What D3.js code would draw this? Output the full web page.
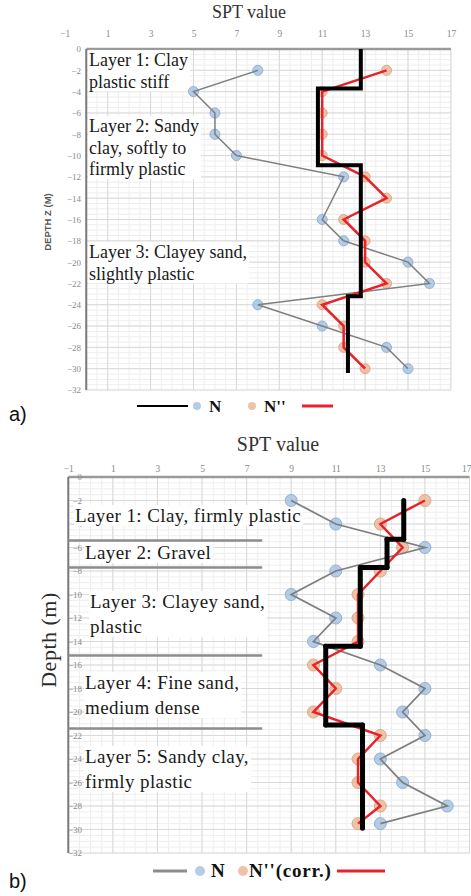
<!DOCTYPE html>
<html><head><meta charset="utf-8">
<script src="https://cdn.jsdelivr.net/npm/d3@7"></script>
<style>body{margin:0;background:#fff}svg{display:block}
.sf{font-family:"Liberation Serif","DejaVu Serif","Times New Roman",serif}
.ss{font-family:"Liberation Sans",Arial,sans-serif}
</style>
</head><body>
<script>
// ---------- DATA ----------
const xTickValues = [-1, 1, 3, 5, 7, 9, 11, 13, 15, 17];
const depthTickValues = [0, -2, -4, -6, -8, -10, -12, -14, -16, -18, -20, -22, -24, -26, -28, -30, -32];

// Chart a)
const depthsA = [-2, -4, -6, -8, -10, -12, -14, -16, -18, -20, -22, -24, -26, -28, -30];
const nA      = [8, 5, 6, 6, 7, 12, null, 11, 12, 15, 16, 8, 11, 14, 15];
const nCorrA  = [14, 11, 11, 11, 11, 13, 14, 12, 13, 13, 14, 11, 12, 12, 13];
const stepDepthsA = [0, -3.7, -10.9, -23.2, -30.4];
const stepValuesA = [12.8, 10.8, 12.8, 12.2];
const layerTextA = [
  ["Layer 1: Clay", "plastic stiff"],
  ["Layer 2: Sandy", "clay, softly to", "firmly plastic"],
  ["Layer 3: Clayey sand,", "slightly plastic"]
];

// Chart b)
const depthsB = [-2, -4, -6, -8, -10, -12, -14, -16, -18, -20, -22, -24, -26, -28, -29.5];
const nB      = [9, 11, 15, 11, 9, 11, 10, 13, 15, 14, 15, 13, 14, 16, 13];
const nCorrB  = [15, 13, 14, 13, 12, 12, 12, 10, 11, 10, 13, 12, 12, 13, 12];
const stepDepthsB = [-2, -5.3, -7.7, -14.4, -21.1, -29.9];
const stepValuesB = [14.05, 13.3, 12.1, 10.55, 12.2];
const layerBoundsB = [-5.4, -7.7, -15.2, -21.4];
const layerTextB = [
  ["Layer 1: Clay, firmly plastic"],
  ["Layer 2: Gravel"],
  ["Layer 3: Clayey sand,", "plastic"],
  ["Layer 4: Fine sand,", "medium dense"],
  ["Layer 5: Sandy clay,", "firmly plastic"]
];

// ---------- DRAW ----------
const W = 471, H = 896;
const svg = d3.select("body").append("svg").attr("width", W).attr("height", H);

function drawChart(c) {
  const g = svg.append("g");
  const x = d3.scaleLinear().domain([-1, 17]).range(c.xRange);
  const y = d3.scaleLinear().domain([0, -32]).range(c.yRange);
  const gx0 = x(c.gridX0), gx1 = x(17);

  // minor grid
  const minorX = d3.range(c.gridX0, 17.001, 0.5);
  const minorY = d3.range(0, -32.001, -0.5);
  g.append("g").selectAll("line").data(minorX).join("line")
    .attr("x1", d => x(d)).attr("x2", d => x(d)).attr("y1", y(0)).attr("y2", y(-32))
    .attr("stroke", "#eeeeee").attr("stroke-width", 1);
  g.append("g").selectAll("line").data(minorY).join("line")
    .attr("x1", gx0).attr("x2", gx1).attr("y1", d => y(d)).attr("y2", d => y(d))
    .attr("stroke", "#eeeeee").attr("stroke-width", 1);
  // major grid
  g.append("g").selectAll("line").data(xTickValues.filter(v => v >= c.gridX0)).join("line")
    .attr("x1", d => x(d)).attr("x2", d => x(d)).attr("y1", y(0)).attr("y2", y(-32))
    .attr("stroke", "#d9d9d9").attr("stroke-width", 1);
  g.append("g").selectAll("line").data(depthTickValues).join("line")
    .attr("x1", gx0).attr("x2", gx1).attr("y1", d => y(d)).attr("y2", d => y(d))
    .attr("stroke", "#d9d9d9").attr("stroke-width", 1);

  // frame: top and left axis lines
  g.append("line").attr("x1", x(c.axisX)).attr("x2", gx1).attr("y1", y(0)).attr("y2", y(0))
    .attr("stroke", "#9a9a9a").attr("stroke-width", 2.5);
  g.append("line").attr("x1", x(c.axisX)).attr("x2", x(c.axisX)).attr("y1", y(0)).attr("y2", y(-32))
    .attr("stroke", "#7a7a7a").attr("stroke-width", 2);

  // top x axis
  const ax = d3.axisTop(x).tickValues(xTickValues).tickSize(0).tickPadding(0);
  const axG = g.append("g").attr("transform", `translate(0,${c.xTickY})`).call(ax);
  axG.attr("font-family", null);
  axG.select(".domain").remove();
  axG.selectAll("text").attr("class", "sf").attr("font-size", 9.5).attr("fill", "#8a8a8a");
  if (c.lastTickEnd) axG.selectAll("text").filter(d => d === 17).attr("text-anchor", "end").attr("x", 471 - x(17));

  // left y axis labels
  const ay = d3.axisLeft(y).tickValues(depthTickValues).tickSize(0).tickPadding(0);
  const ayG = g.append("g").attr("transform", `translate(${c.yTickX},0)`).call(ay);
  ayG.attr("font-family", null);
  ayG.select(".domain").remove();
  ayG.selectAll("text").attr("class", "sf").attr("font-size", 9).attr("fill", "#8a8a8a");

  // title
  g.append("text").attr("x", c.titleX).attr("y", c.titleY).attr("text-anchor", "middle")
    .attr("class", "sf").attr("font-size", c.titleSize).attr("fill", "#333").text("SPT value");

  // layer boundary lines (b)
  if (c.bounds) {
    g.append("g").selectAll("line").data(c.bounds).join("line")
      .attr("x1", x(-1)).attr("x2", x(7.7)).attr("y1", d => y(d)).attr("y2", d => y(d))
      .attr("stroke", "#8c8c8c").attr("stroke-width", 2.5);
  }

  // layer labels with white background
  c.labels.forEach((lines, i) => {
    const p = c.labelPos[i];
    const lg = g.append("g");
    const rect = lg.append("rect").attr("fill", "#fff");
    const t = lg.append("text").attr("class", "sf").attr("font-size", c.labelSize)
      .attr("letter-spacing", c.labelLS).attr("fill", "#1a1a1a");
    lines.forEach((s, j) => t.append("tspan").attr("x", p[0]).attr("y", p[1] + j * c.lineH).text(s));
    const bb = t.node().getBBox();
    rect.attr("x", bb.x - 1).attr("y", bb.y).attr("width", bb.width + 3).attr("height", bb.height);
  });

  // data
  const ptsN = c.depths.map((d, i) => ({ d, v: c.n[i] })).filter(p => p.v != null);
  const ptsC = c.depths.map((d, i) => ({ d, v: c.nc[i] })).filter(p => p.v != null);
  const line = d3.line().x(p => x(p.v)).y(p => y(p.d));

  g.append("g").selectAll("circle").data(ptsN).join("circle")
    .attr("cx", p => x(p.v)).attr("cy", p => y(p.d)).attr("r", c.r)
    .attr("fill", "#a7c3e0").attr("fill-opacity", 0.85).attr("stroke", "#8fb1d6").attr("stroke-width", 1);
  g.append("g").selectAll("circle").data(ptsC).join("circle")
    .attr("cx", p => x(p.v)).attr("cy", p => y(p.d)).attr("r", c.r)
    .attr("fill", "#eab89a").attr("fill-opacity", 0.85).attr("stroke", "#e0a884").attr("stroke-width", 1);

  g.append("path").datum(ptsN).attr("d", line).attr("fill", "none")
    .attr("stroke", "#7f7f7f").attr("stroke-width", c.greyW);
  g.append("path").datum(ptsC).attr("d", line).attr("fill", "none")
    .attr("stroke", "#e8222a").attr("stroke-width", 2.5);

  // step (design) line
  const stepPts = [];
  c.stepVals.forEach((v, i) => {
    stepPts.push({ v, d: c.stepDepths[i] });
    stepPts.push({ v, d: c.stepDepths[i + 1] });
  });
  if (c.roundSteps) {
    const segs = d3.pairs(stepPts);
    g.append("g").selectAll("line").data(segs).join("line")
      .attr("x1", s => x(s[0].v)).attr("y1", s => y(s[0].d))
      .attr("x2", s => x(s[1].v)).attr("y2", s => y(s[1].d))
      .attr("stroke", "#000").attr("stroke-width", 5).attr("stroke-linecap", "round");
  } else {
    g.append("path").datum(stepPts).attr("d", line).attr("fill", "none")
      .attr("stroke", "#000").attr("stroke-width", 4).attr("stroke-linejoin", "miter");
  }
}

drawChart({
  xRange: [64.8, 450.9], yRange: [49, 390], gridX0: 0, axisX: 0,
  xTickY: 37, yTickX: 81, titleX: 249, titleY: 18, titleSize: 18,
  labels: layerTextA, labelPos: [[89, 66], [89, 132], [89, 258]], labelSize: 18, labelLS: 0, lineH: 21.5,
  depths: depthsA, n: nA, nc: nCorrA, r: 5, greyW: 1.5,
  stepDepths: stepDepthsA, stepVals: stepValuesA, roundSteps: false
});

drawChart({
  xRange: [68.3, 469.5], yRange: [477, 853], gridX0: -1, axisX: -1,
  xTickY: 472, yTickX: 82, titleX: 278, titleY: 451, titleSize: 20, lastTickEnd: true,
  labels: layerTextB, labelPos: [[75, 522], [85, 559], [90, 608], [85, 689], [85, 763]], labelSize: 19, labelLS: 0.4, lineH: 25,
  depths: depthsB, n: nB, nc: nCorrB, r: 6, greyW: 1.8,
  stepDepths: stepDepthsB, stepVals: stepValuesB, roundSteps: true,
  bounds: layerBoundsB
});

// y axis titles
svg.append("text").attr("transform", "translate(51,222) rotate(-90)").attr("text-anchor", "middle")
  .attr("class", "ss").attr("font-size", 9.5).attr("font-weight", "bold")
  .attr("fill", "#555").text("DEPTH Z (M)");
svg.append("text").attr("transform", "translate(56,640) rotate(-90)").attr("text-anchor", "middle")
  .attr("class", "sf").attr("font-size", 22).attr("letter-spacing", 0.5).attr("fill", "#2b2b2b").text("Depth (m)");

// legends
function legend(y, items) {
  const lg = svg.append("g");
  items.forEach(it => {
    if (it.type === "line") lg.append("line").attr("x1", it.x1).attr("x2", it.x2).attr("y1", y).attr("y2", y)
      .attr("stroke", it.color).attr("stroke-width", it.w);
    if (it.type === "dot") lg.append("circle").attr("cx", it.x).attr("cy", y).attr("r", it.r)
      .attr("fill", it.color).attr("fill-opacity", 0.85);
    if (it.type === "text") lg.append("text").attr("x", it.x).attr("y", y + it.size * 0.33).attr("class", "sf")
      .attr("font-weight", "bold").attr("font-size", it.size).attr("letter-spacing", it.ls || 0)
      .attr("fill", "#111").text(it.text);
  });
}
legend(406, [
  { type: "line", x1: 137, x2: 188, color: "#000", w: 2 },
  { type: "dot", x: 197, r: 4, color: "#a7c3e0" },
  { type: "text", x: 209, text: "N", size: 17 },
  { type: "dot", x: 252, r: 4, color: "#eab89a" },
  { type: "text", x: 264, text: "N''", size: 17 },
  { type: "line", x1: 302, x2: 333, color: "#e8222a", w: 3 }
]);
legend(871, [
  { type: "line", x1: 153, x2: 187, color: "#8c8c8c", w: 3 },
  { type: "dot", x: 200, r: 5, color: "#a7c3e0" },
  { type: "text", x: 211, text: "N", size: 19 },
  { type: "dot", x: 243, r: 5, color: "#eab89a" },
  { type: "text", x: 249, text: "N''(corr.)", size: 19, ls: 0.8 },
  { type: "line", x1: 337, x2: 385, color: "#e8222a", w: 3 }
]);

svg.append("text").attr("x", 9).attr("y", 421).attr("class", "ss")
  .attr("font-size", 20).attr("fill", "#111").text("a)");
svg.append("text").attr("x", 9).attr("y", 888).attr("class", "ss")
  .attr("font-size", 20).attr("fill", "#111").text("b)");
</script>
</body></html>
